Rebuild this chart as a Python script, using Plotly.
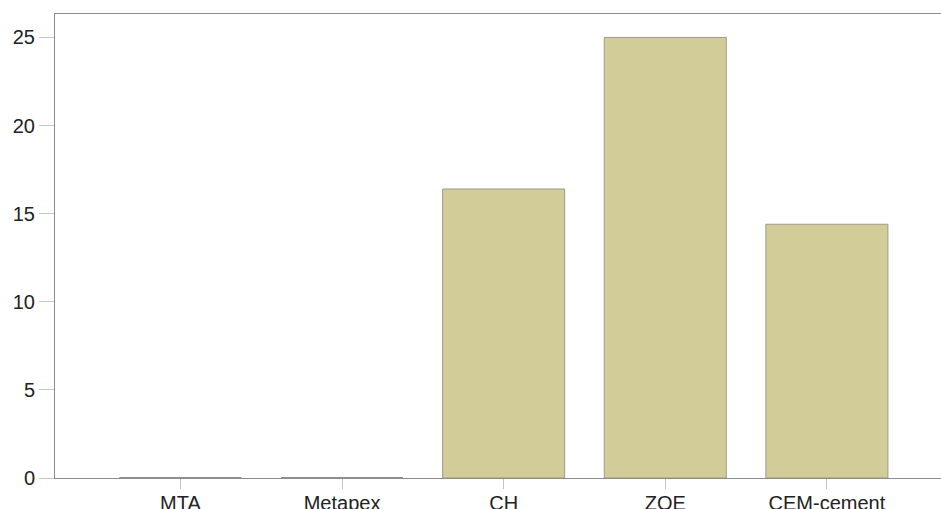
import plotly.graph_objects as go

categories = ["MTA", "Metapex", "CH", "ZOE", "CEM-cement"]
values = [0, 0, 16.4, 25.0, 14.4]
y_ticks = [0, 5, 10, 15, 20, 25]

bar_width = 0.755
fill_color = "#D2CD98"
edge_color = "#9C9B8C"

fig = go.Figure()
fig.add_trace(go.Bar(
    x=categories, y=values, width=bar_width,
    marker=dict(color=fill_color, line=dict(color=edge_color, width=1)),
    hoverinfo="x+y",
))

# zero-valued bars are drawn by the source as a flat outline at the baseline
shapes = []
for i, v in enumerate(values):
    if v == 0:
        shapes.append(dict(type="line", xref="x", yref="y",
                           x0=i - bar_width / 2, x1=i + bar_width / 2, y0=v, y1=v,
                           line=dict(color="#707070", width=1.2)))

fig.update_layout(
    width=941, height=509,
    margin=dict(l=55, r=0, t=14, b=31, pad=0, autoexpand=False),
    paper_bgcolor="white", plot_bgcolor="white",
    showlegend=False,
    shapes=shapes,
    font=dict(family="Liberation Sans, Arial, sans-serif", size=20, color="#222222"),
    xaxis=dict(
        type="category",
        range=[-0.776, 4.706],
        automargin=False,
        showline=True, linecolor="#8C8C8C", linewidth=1, mirror=True,
        ticks="outside", ticklen=10, tickcolor="#C4C4C4", tickwidth=1,
        ticklabelstandoff=-3,
        showgrid=False, zeroline=False,
        tickfont=dict(size=20, color="#222222"),
    ),
    yaxis=dict(
        range=[0, 26.33],
        tickvals=y_ticks,
        automargin=False,
        showline=True, linecolor="#8C8C8C", linewidth=1,
        ticks="outside", ticklen=15, tickcolor="#C4C4C4", tickwidth=1,
        showgrid=False, zeroline=False,
        tickfont=dict(size=20, color="#222222"),
    ),
)

fig.write_html(
    "out.html",
    config={"displayModeBar": False},
    post_script="document.body.style.margin='0';document.body.style.overflow='hidden';",
)
